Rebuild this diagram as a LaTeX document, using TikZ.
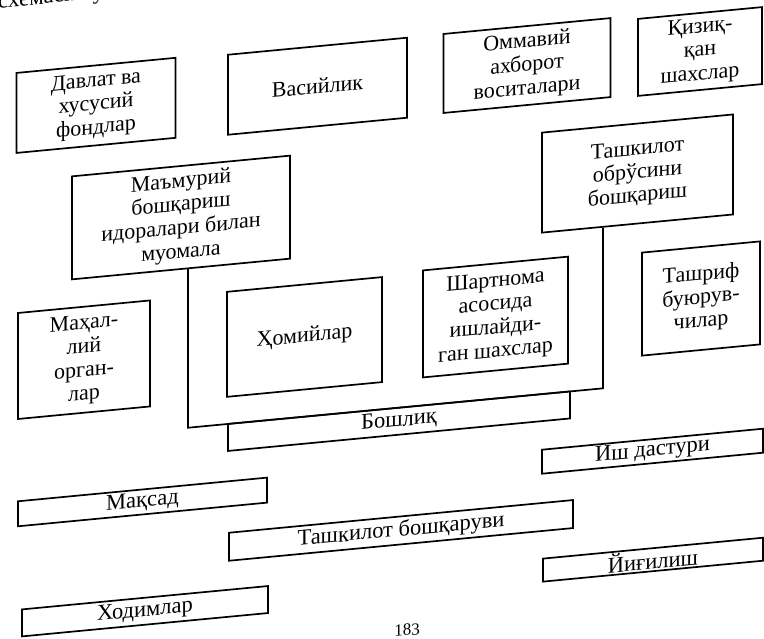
\documentclass[tikz,border=0pt]{standalone}
\usepackage{fontspec}
\setmainfont{Liberation Serif}
\begin{document}
\begin{tikzpicture}[x=1pt,y=-1pt,
  box/.style={draw, line width=1.7pt, inner sep=0pt, align=center,
    font=\fontsize{22}{23.5}\selectfont},
  strip/.style={box, font=\fontsize{22.5}{23}\selectfont},
  frame/.style={line width=1.7pt}]
\useasboundingbox (0,0) rectangle (764,639);
\fill[white] (0,0) rectangle (764,639);
\begin{scope}[yslant=0.095, transform shape]
  % top partial text of the page
  \node[anchor=base west, inner sep=0pt, font=\fontsize{23}{23}\selectfont] (toptext) at (-2,8) {схемаси ку};
  % row 1
  \node[box, minimum width=159pt, minimum height=80pt] (davlat) at (96,114.5) {Давлат ва\\хусусий\\фондлар};
  \node[box, minimum width=179pt, minimum height=80pt] (vasiy) at (317.5,116.4) {Васийлик};
  \node[box, minimum width=167pt, minimum height=79pt] (ommaviy) at (527,115.6) {Оммавий\\ахборот\\воситалари};
  \node[box, minimum width=124pt, minimum height=77pt] (qiziq) at (700,118) {Қизиқ-\\қан\\шахслар};
  % row 2
  \node[box, minimum width=218pt, minimum height=103pt] (maam) at (181,234.7) {Маъмурий\\бошқариш\\идоралари билан\\муомала};
  \node[box, minimum width=191pt, minimum height=100pt] (obru) at (637.5,234.1) {Ташкилот\\обрўсини\\бошқариш};
  % row 3
  \node[box, minimum width=132pt, minimum height=106pt] (mahal) at (84,367.7) {Маҳал-\\лий\\орган-\\лар};
  \node[box, minimum width=155pt, minimum height=105pt] (homiy) at (304.5,365.9) {Ҳомийлар};
  \node[box, minimum width=145pt, minimum height=107pt] (shart) at (495.5,364.1) {Шартнома\\асосида\\ишлайди-\\ган шахслар};
  \node[box, minimum width=118pt, minimum height=103pt] (tashrif) at (701,365.1) {Ташриф\\буюрув-\\чилар};
  % frame
  \coordinate (fbl) at (188,445.6);
  \coordinate (fbr) at (603,445.6);
  \draw[frame] (maam.south -| fbl) -- (fbl) -- (fbr) -- (obru.south -| fbr);
  % strips
  \node[strip, minimum width=342pt, minimum height=27pt] (boshliq) at (399,459.1) {Бошлиқ};
  \node[strip, minimum width=249pt, minimum height=25pt] (maqsad) at (142.5,515.5) {Мақсад};
  \node[strip, minimum width=221pt, minimum height=24pt] (ish) at (652.5,513.2) {Иш дастури};
  \node[strip, minimum width=344pt, minimum height=28pt] (boshq) at (401,568.5) {Ташкилот бошқаруви};
  \node[strip, minimum width=246pt, minimum height=27pt] (xodim) at (145,625) {Ходимлар};
  \node[strip, minimum width=220pt, minimum height=23pt] (yigil) at (653,621.7) {Йиғилиш};
  % page number
  \node[inner sep=0pt, font=\fontsize{17}{17}\selectfont] (page) at (407,668.5) {183};
\end{scope}
\end{tikzpicture}
\end{document}
